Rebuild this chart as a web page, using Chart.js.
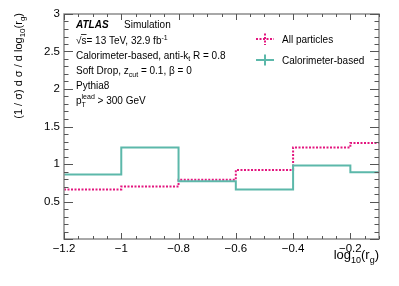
<!DOCTYPE html>
<html>
<head>
<meta charset="utf-8">
<script src="https://cdn.jsdelivr.net/npm/chart.js@4/dist/chart.umd.min.js"></script>
<style>
  html, body { margin: 0; padding: 0; background: #fff; }
</style>
</head>
<body>
<canvas id="histChart" width="399" height="286"></canvas>
<script>
// bin edges of log10(r_g) and normalised values per bin
const binEdges = [-1.2, -1.0, -0.8, -0.6, -0.4, -0.2, -0.1];
const allParticles = [0.66, 0.70, 0.79, 0.92, 1.22, 1.28];
const calorimeter = [0.86, 1.22, 0.77, 0.66, 0.98, 0.89];

const xTicks = [-1.2, -1.0, -0.8, -0.6, -0.4, -0.2];
const yTicks = [0.5, 1, 1.5, 2, 2.5, 3];

const pink = '#e3167f';
const teal = '#5cb8aa';
const frameColor = '#8c8c8c';
const tickColor = '#555';
const FONT = '"Liberation Sans", Arial, Helvetica, sans-serif';

function histPoints(vals) {
  const pts = vals.map((v, i) => ({ x: binEdges[i], y: v }));
  pts.push({ x: binEdges[binEdges.length - 1], y: vals[vals.length - 1] });
  return pts;
}

function fmt(v) {
  return String(Math.round(v * 10) / 10).replace('-', '\u2212');
}

// draw text pieces [text, size, dy, style] one after another
function richText(ctx, x, y, parts, measureOnly) {
  let cx = x;
  for (const p of parts) {
    ctx.font = (p[3] || '') + ' ' + p[1] + 'px ' + FONT;
    if (!measureOnly) ctx.fillText(p[0], cx, y + p[2]);
    cx += ctx.measureText(p[0]).width;
  }
  return cx - x;
}

const atlasPlugin = {
  id: 'atlasDeco',
  afterDatasetsDraw(chart) {
    const ctx = chart.ctx;
    const a = chart.chartArea;
    const xs = chart.scales.x, ys = chart.scales.y;
    ctx.save();

    // frame
    ctx.strokeStyle = frameColor;
    ctx.lineWidth = 1.5;
    ctx.strokeRect(a.left, a.top, a.right - a.left, a.bottom - a.top);

    // inward ticks
    ctx.strokeStyle = tickColor;
    ctx.lineWidth = 1;
    ctx.beginPath();
    for (let i = 0; i <= 22; i++) {
      const v = -1.2 + i * 0.05;
      const px = Math.round(xs.getPixelForValue(v)) + 0.5;
      const len = (i % 4 === 0) ? 6 : 3;
      ctx.moveTo(px, a.bottom); ctx.lineTo(px, a.bottom - len);
      ctx.moveTo(px, a.top); ctx.lineTo(px, a.top + len);
    }
    for (let i = 0; i <= 30; i++) {
      const v = i * 0.1;
      const py = Math.round(ys.getPixelForValue(v)) + 0.5;
      const len = (i % 5 === 0) ? 9 : 4.5;
      ctx.moveTo(a.left, py); ctx.lineTo(a.left + len, py);
      ctx.moveTo(a.right, py); ctx.lineTo(a.right - len, py);
    }
    ctx.stroke();

    ctx.fillStyle = '#000';
    ctx.textBaseline = 'alphabetic';
    ctx.textAlign = 'left';

    // x title, right aligned to the frame
    const xParts = [['log', 13, 0], ['10', 9, 4], ['(r', 13, 0], ['g', 9, 4], [')', 13, 0]];
    const xw = richText(ctx, 0, 0, xParts, true);
    richText(ctx, a.right - xw, 259, xParts);

    // y title, rotated, right aligned to the top
    const yParts = [['(1 / \u03c3) d \u03c3 / d log', 11, 0], ['10', 8, 3], ['(r', 11, 0], ['g', 8, 3], [')', 11, 0]];
    const yw = richText(ctx, 0, 0, yParts, true);
    ctx.save();
    ctx.translate(21.5, 0);
    ctx.rotate(-Math.PI / 2);
    richText(ctx, -13 - yw, 0, yParts);
    ctx.restore();

    // ATLAS label block
    const tx = 76;
    ctx.font = 'italic bold 10px ' + FONT;
    ctx.fillText('ATLAS', tx, 28);
    ctx.font = '10px ' + FONT;
    ctx.fillText('Simulation', 124, 28);

    let w = richText(ctx, tx, 43.5, [['\u221a', 10, 0]]);
    const sw = ctx.measureText('s').width;
    ctx.beginPath();
    ctx.lineWidth = 0.8;
    ctx.strokeStyle = '#000';
    ctx.moveTo(tx + w - 0.5, 34.5); ctx.lineTo(tx + w + sw, 34.5);
    ctx.stroke();
    richText(ctx, tx + w, 43.5, [['s= 13 TeV, 32.9 fb', 10, 0], ['-1', 7, -4]]);

    richText(ctx, tx, 58.5, [['Calorimeter-based, anti-k', 10, 0], ['t', 7, 2.5], [' R = 0.8', 10, 0]]);
    richText(ctx, tx, 74, [['Soft Drop, z', 10, 0], ['cut', 7, 2.5], [' = 0.1, \u03b2 = 0', 10, 0]]);
    richText(ctx, tx, 89, [['Pythia8', 10, 0]]);
    w = richText(ctx, tx, 104, [['p', 10, 0]]);
    ctx.font = '7px ' + FONT;
    ctx.fillText('T', tx + w, 106.5);
    ctx.fillText('lead', tx + w, 99);
    const lw = ctx.measureText('lead').width;
    richText(ctx, tx + w + lw, 104, [[' > 300 GeV', 10, 0]]);

    // legend
    ctx.lineWidth = 2;
    ctx.strokeStyle = pink;
    ctx.setLineDash([2, 1.5]);
    ctx.beginPath();
    ctx.moveTo(256, 39); ctx.lineTo(274, 39);
    ctx.moveTo(265, 33.5); ctx.lineTo(265, 45);
    ctx.stroke();
    ctx.setLineDash([]);
    ctx.strokeStyle = teal;
    ctx.beginPath();
    ctx.moveTo(256, 60); ctx.lineTo(274, 60);
    ctx.moveTo(265, 54.5); ctx.lineTo(265, 65.5);
    ctx.stroke();
    ctx.font = '10px ' + FONT;
    ctx.fillText('All particles', 282, 42.5);
    ctx.fillText('Calorimeter-based', 282, 63.5);

    ctx.restore();
  }
};

const ctx = document.getElementById('histChart').getContext('2d');
new Chart(ctx, {
  type: 'line',
  data: {
    datasets: [
      {
        label: 'Calorimeter-based',
        data: histPoints(calorimeter),
        borderColor: teal,
        borderWidth: 2,
        stepped: true,
        pointRadius: 0,
        fill: false
      },
      {
        label: 'All particles',
        data: histPoints(allParticles),
        borderColor: pink,
        borderWidth: 2,
        borderDash: [2, 1.5],
        stepped: true,
        pointRadius: 0,
        fill: false
      }
    ]
  },
  options: {
    responsive: false,
    animation: false,
    devicePixelRatio: 1,
    layout: { padding: { left: 0, top: 14, right: 20, bottom: 0 } },
    plugins: { legend: { display: false }, tooltip: { enabled: false } },
    scales: {
      x: {
        type: 'linear',
        min: -1.2,
        max: -0.1,
        grid: { display: false, drawTicks: false },
        border: { display: false },
        afterFit: s => { s.height = 47; },
        afterBuildTicks: s => { s.ticks = xTicks.map(v => ({ value: v })); },
        ticks: {
          padding: 3,
          color: '#000',
          maxRotation: 0,
          font: { family: FONT, size: 11.5 },
          callback: v => fmt(v)
        }
      },
      y: {
        type: 'linear',
        min: 0,
        max: 3,
        grid: { display: false, drawTicks: false },
        border: { display: false },
        afterFit: s => { s.width = 64; },
        afterBuildTicks: s => { s.ticks = yTicks.map(v => ({ value: v })); },
        ticks: {
          padding: 4,
          color: '#000',
          font: { family: FONT, size: 11.5 },
          callback: v => fmt(v)
        }
      }
    }
  },
  plugins: [atlasPlugin]
});
</script>
</body>
</html>
